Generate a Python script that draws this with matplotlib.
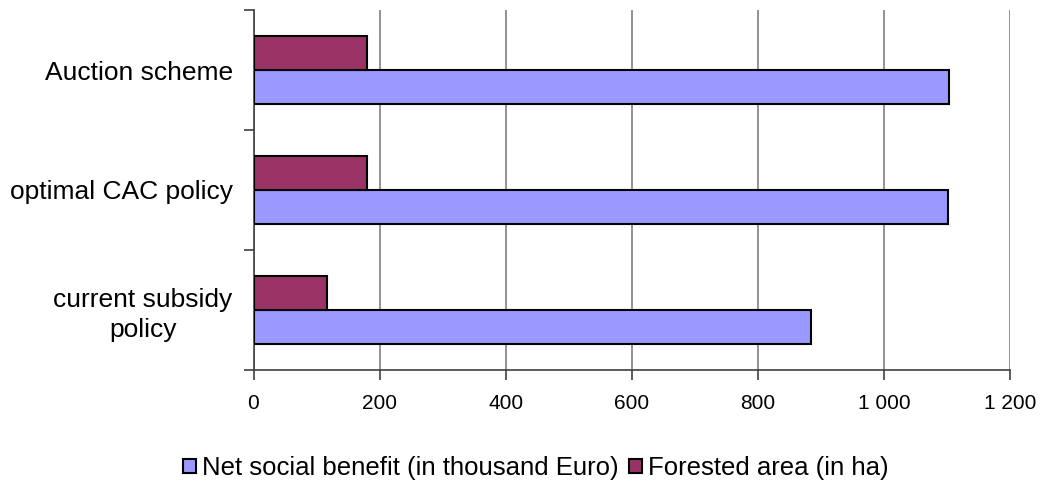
import matplotlib
matplotlib.use("Agg")
import matplotlib.pyplot as plt
import numpy as np
from matplotlib.ticker import FuncFormatter, FixedLocator, NullFormatter

plt.rcParams['font.family'] = ['Liberation Sans', 'DejaVu Sans']

categories = ["current subsidy\npolicy", "optimal CAC policy", "Auction scheme"]
net_benefit = [884, 1102, 1103]
forested = [116, 180, 180]
series_names = ["Net social benefit (in thousand Euro)", "Forested area (in ha)"]
colors = ["#9999FF", "#993366"]

fig = plt.figure(figsize=(10.46, 4.93), dpi=100)
ax = fig.add_axes([253.5/1046, 1-370/493, (1010-253.5)/1046, 360/493])

y = np.arange(len(categories))
h = 0.283
ax.barh(y - h/2, net_benefit, height=h, color=colors[0], edgecolor="black", linewidth=1.5,
        label=series_names[0], zorder=3)
ax.barh(y + h/2, forested, height=h, color=colors[1], edgecolor="black", linewidth=1.5,
        label=series_names[1], zorder=3)

ax.set_xlim(0, 1200)
ax.set_ylim(-0.5, 2.5)
ax.set_xticks(np.arange(0, 1201, 200))
ax.xaxis.set_major_formatter(FuncFormatter(lambda v, p: f"{int(v):,}".replace(",", " ")))
ax.grid(axis="x", color="#808080", linewidth=1.2, zorder=0)

ax.yaxis.set_major_locator(FixedLocator([-0.5, 0.5, 1.5, 2.5]))
ax.yaxis.set_major_formatter(NullFormatter())
ax.yaxis.set_minor_locator(FixedLocator(y))
labels = ax.set_yticklabels(categories, minor=True, ha="right", fontsize=19, linespacing=1.3)
for t in labels:
    t.set_multialignment("center")
ax.tick_params(axis="y", which="minor", length=0, pad=15)
ax.tick_params(axis="y", which="major", length=7, width=1.2, color="#404040")
ax.tick_params(axis="x", length=7, width=1.2, color="#404040", labelsize=15, pad=10)

for s in ["top", "right"]:
    ax.spines[s].set_visible(False)
for s in ["left", "bottom"]:
    ax.spines[s].set_color("#404040")
    ax.spines[s].set_linewidth(1.2)

leg = fig.legend(loc="center", bbox_to_anchor=(536/1046, 1-468/493), ncol=2, frameon=False,
                 fontsize=18.5, handlelength=0.5, handleheight=0.5, handletextpad=0.25,
                 columnspacing=0.4)

fig.savefig("out.png", dpi=100)
